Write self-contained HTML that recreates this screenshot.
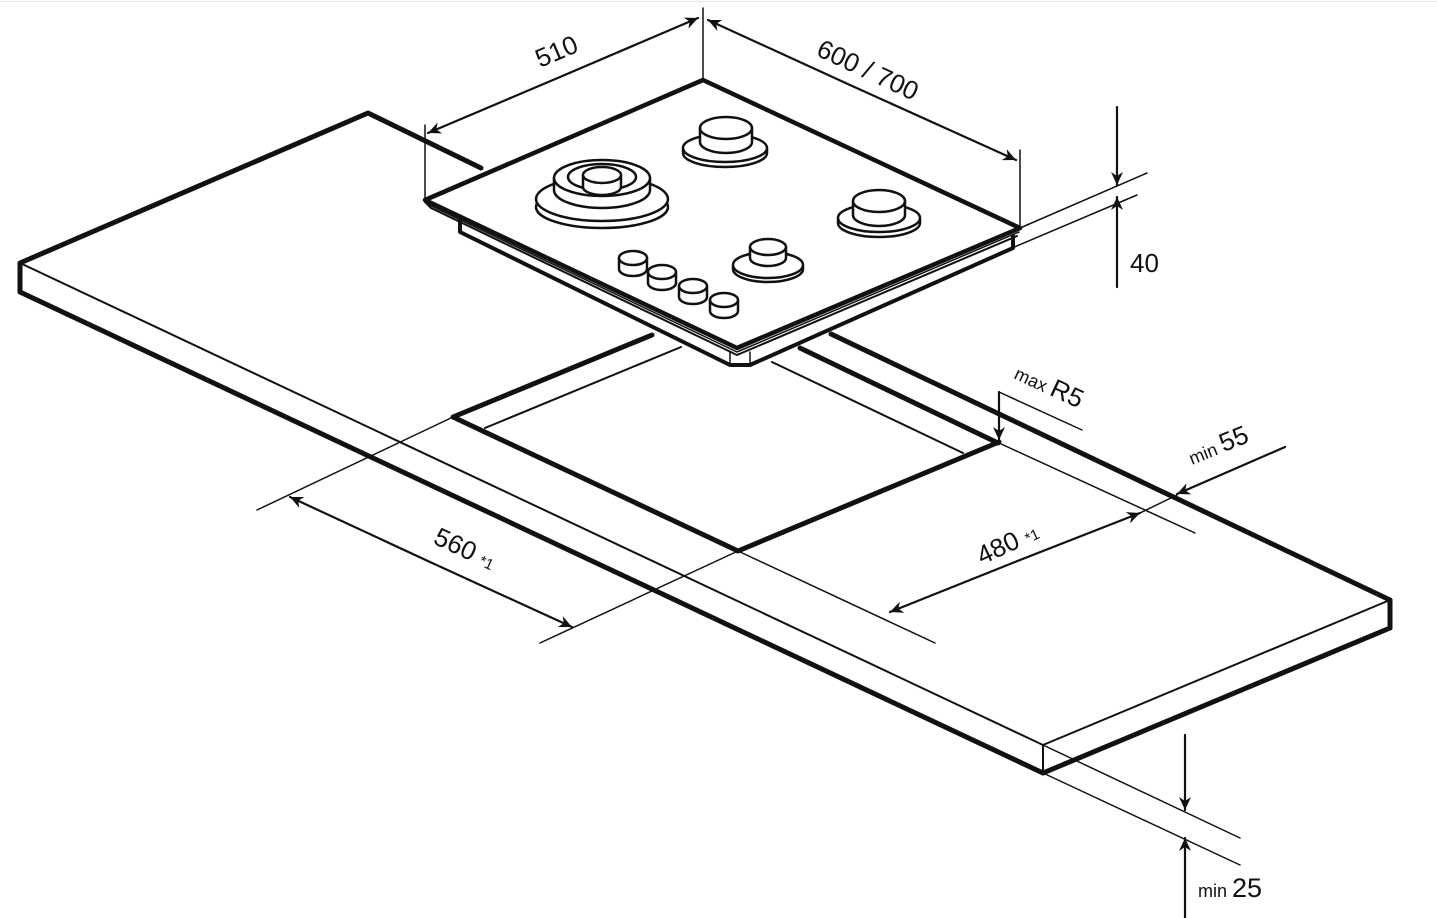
<!DOCTYPE html>
<html><head><meta charset="utf-8"><style>
html,body{margin:0;padding:0;background:#fff;}
svg{display:block}
text{font-family:"Liberation Sans",sans-serif;fill:#111;}
</style></head><body>
<svg width="1437" height="918" viewBox="0 0 1437 918" xmlns="http://www.w3.org/2000/svg">
<defs>
<marker id="ar" markerWidth="14" markerHeight="12" refX="13" refY="6" orient="auto" markerUnits="userSpaceOnUse">
<path d="M0,0 L13,6 L0,12 L4,6 Z" fill="#111"/>
</marker>
</defs>
<line x1="0" y1="1.5" x2="1437" y2="1.5" stroke="#e6e6e6" stroke-width="1"/>
<g stroke="#111" fill="none" stroke-linejoin="round" stroke-linecap="round">
<!-- countertop -->
<polyline points="20,292 20,263 368,113 481,168" stroke-width="5"/>
<line x1="20" y1="263" x2="1043" y2="745" stroke-width="2"/>
<line x1="20" y1="292" x2="1043" y2="773" stroke-width="5"/>
<line x1="1043" y1="745" x2="1043" y2="773" stroke-width="2"/>
<line x1="1043" y1="745" x2="1390" y2="600" stroke-width="2"/>
<line x1="1043" y1="773" x2="1390" y2="628" stroke-width="5"/>
<line x1="1390" y1="600" x2="1390" y2="628" stroke-width="5"/>
<line x1="831" y1="334" x2="1390" y2="600" stroke-width="5"/>
<!-- cutout -->
<polyline points="652,335 453,417 738,551 999,442" stroke-width="5"/>
<line x1="485" y1="428" x2="681" y2="347" stroke-width="2"/>
<line x1="800" y1="348" x2="998" y2="443" stroke-width="5"/>
<line x1="772" y1="362" x2="963" y2="453" stroke-width="2"/>
<!-- hob -->
<polygon points="703,80 425,200 737,348 1020,228" stroke-width="4.5" fill="#fff"/>
<polyline points="425,202 431,208 737,355 1017,236" stroke-width="2"/>
<polyline points="429,205 737,352 1019,232" stroke-width="1.5"/>
<polyline points="460,220 460,232 730,365 750,365 1013,248 1013,236" stroke-width="4"/>
<line x1="730" y1="352" x2="730" y2="365" stroke-width="1.5"/>
<line x1="750" y1="352" x2="750" y2="365" stroke-width="1.5"/>
<!-- big burner -->
<g stroke-width="2.5" fill="#fff">
<ellipse cx="602" cy="207" rx="66" ry="21"/>
<ellipse cx="602" cy="199" rx="66" ry="22"/>
<path d="M554,178 v12 a48,18 0 0 0 96,0 v-12"/>
<ellipse cx="602" cy="178" rx="48" ry="18"/>
<ellipse cx="602" cy="177" rx="34" ry="13"/>
<path d="M583,175 v12 a19,8 0 0 0 38,0 v-12"/>
<ellipse cx="602" cy="175" rx="19" ry="8"/>
</g>
<!-- burner top -->
<g stroke-width="2.5" fill="#fff">
<path d="M683,148 a42,14 0 0 0 84,0 a42,14 0 0 0 -84,0 v5 a42,14 0 0 0 84,0 v-5"/>
<path d="M700,128 v14 a26,11 0 0 0 52,0 v-14"/>
<ellipse cx="726" cy="128" rx="26" ry="11"/>
</g>
<!-- burner right -->
<g stroke-width="2.5" fill="#fff">
<path d="M838,218 a41,14 0 0 0 82,0 a41,14 0 0 0 -82,0 v5 a41,14 0 0 0 82,0 v-5"/>
<path d="M853,201 v14 a26,11 0 0 0 52,0 v-14"/>
<ellipse cx="879" cy="201" rx="26" ry="11"/>
</g>
<!-- burner front -->
<g stroke-width="2.5" fill="#fff">
<path d="M733,265 a35,13 0 0 0 70,0 a35,13 0 0 0 -70,0 v4 a35,13 0 0 0 70,0 v-4"/>
<path d="M750,247 v11 a18,8 0 0 0 36,0 v-11"/>
<ellipse cx="768" cy="247" rx="18" ry="8"/>
</g>
<!-- knobs -->
<g stroke-width="2.5" fill="#fff">
<path d="M619,258 v11 a14,7 0 0 0 28,0 v-11"/><ellipse cx="633" cy="258" rx="14" ry="7"/>
<path d="M648,272 v11 a14,7 0 0 0 28,0 v-11"/><ellipse cx="662" cy="272" rx="14" ry="7"/>
<path d="M679,286 v11 a14,7 0 0 0 28,0 v-11"/><ellipse cx="693" cy="286" rx="14" ry="7"/>
<path d="M710,300 v11 a14,7 0 0 0 28,0 v-11"/><ellipse cx="724" cy="300" rx="14" ry="7"/>
</g>
<!-- extension lines -->
<g stroke-width="1.5">
<line x1="425" y1="125" x2="425" y2="200"/>
<line x1="703" y1="8" x2="703" y2="80"/>
<line x1="1020" y1="150" x2="1020" y2="228"/>
<line x1="1020" y1="228" x2="1147" y2="173"/>
<line x1="1012" y1="248" x2="1137" y2="195"/>
<line x1="1043" y1="745" x2="1240" y2="838"/>
<line x1="1043" y1="773" x2="1240" y2="865"/>
<line x1="453" y1="417" x2="257" y2="510"/>
<line x1="738" y1="551" x2="540" y2="643"/>
<line x1="738" y1="551" x2="935" y2="643"/>
<line x1="999" y1="443" x2="1195" y2="533"/>
<line x1="999" y1="392" x2="1082" y2="430"/>
<line x1="1140" y1="513" x2="1177" y2="495"/>
</g>
<g stroke-width="2.2">
<line x1="560" y1="77" x2="428" y2="133" marker-end="url(#ar)"/>
<line x1="560" y1="77" x2="698" y2="18" marker-end="url(#ar)"/>
<line x1="850" y1="85" x2="708" y2="20" marker-end="url(#ar)"/>
<line x1="850" y1="85" x2="1016" y2="160" marker-end="url(#ar)"/>
<line x1="1117" y1="107" x2="1117" y2="185" marker-end="url(#ar)"/>
<line x1="1117" y1="287" x2="1117" y2="197" marker-end="url(#ar)"/>
<line x1="999" y1="392" x2="999" y2="440" marker-end="url(#ar)"/>
<line x1="1285" y1="447" x2="1177" y2="494" marker-end="url(#ar)"/>
<line x1="430" y1="562" x2="290" y2="497" marker-end="url(#ar)"/>
<line x1="430" y1="562" x2="572" y2="627" marker-end="url(#ar)"/>
<line x1="1015" y1="562" x2="890" y2="612" marker-end="url(#ar)"/>
<line x1="1015" y1="562" x2="1140" y2="513" marker-end="url(#ar)"/>
<line x1="1185" y1="735" x2="1185" y2="810" marker-end="url(#ar)"/>
<line x1="1185" y1="918" x2="1185" y2="838" marker-end="url(#ar)"/>
</g>
</g>
<text x="0" y="0" font-size="26" transform="translate(540,68) rotate(-23)">510</text>
<text x="0" y="0" font-size="26" transform="translate(815,55) rotate(25)">600 / 700</text>
<text x="1130" y="272" font-size="26">40</text>
<text x="0" y="0" font-size="18" transform="translate(1013,378) rotate(25)">max <tspan font-size="26">R5</tspan></text>
<text x="0" y="0" font-size="18" transform="translate(1192,465) rotate(-22)">min <tspan font-size="26">55</tspan></text>
<text x="0" y="0" font-size="26" transform="translate(432,543) rotate(25)">560 <tspan font-size="15">*1</tspan></text>
<text x="0" y="0" font-size="26" transform="translate(982,565) rotate(-25)">480 <tspan font-size="15">*1</tspan></text>
<text x="1198" y="897" font-size="18">min <tspan font-size="27">25</tspan></text>
</svg>
</body></html>
